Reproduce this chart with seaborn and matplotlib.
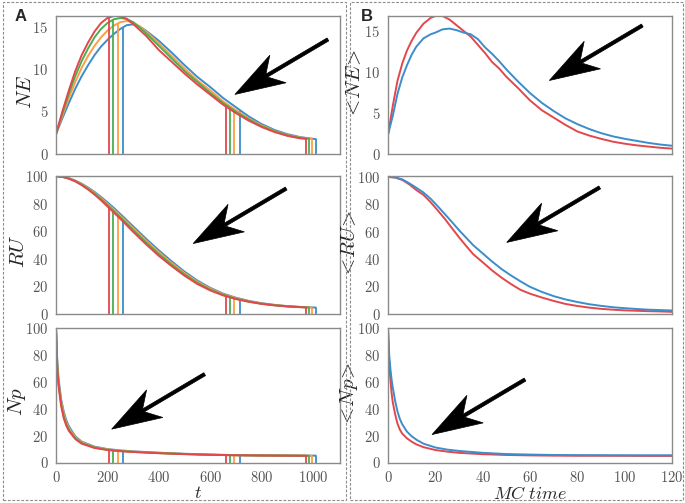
import numpy as np
import pandas as pd
import matplotlib
matplotlib.use("Agg")
import matplotlib.pyplot as plt
import seaborn as sns
from matplotlib.patches import Polygon, Rectangle
from matplotlib.transforms import IdentityTransform

# ---------------- data ----------------
# panel A: deterministic curves, four runs (blue, orange, green, red)
T_GRID = [0, 25, 50, 75, 100, 125, 150, 175, 200, 225, 250, 275, 300, 325, 350,
          400, 450, 500, 550, 600, 650, 700, 750, 800, 850, 900, 950]
T_END = {"blue": 1011, "orange": 995, "green": 985, "red": 974}
EVENTS = {"blue": [262, 717, 1011], "orange": [242, 694, 995],
          "green": [222, 677, 985], "red": [207, 661, 974]}

NE_BLUE = [2.3, 4.2, 6.0, 7.7, 9.2, 10.5, 11.7, 12.7, 13.5, 14.2, 14.8, 15.25, 15.35, 15.1, 14.6,
           13.4, 12.0, 10.5, 9.1, 7.9, 6.6, 5.5, 4.4, 3.5, 2.8, 2.3, 1.95, 1.7]
NE_ORANGE = [2.3, 4.5, 6.6, 8.5, 10.2, 11.6, 12.8, 13.8, 14.6, 15.2, 15.6, 15.75, 15.6, 15.1, 14.5,
             13.1, 11.6, 10.1, 8.7, 7.5, 6.2, 5.15, 4.15, 3.35, 2.7, 2.2, 1.9, 1.75]
NE_GREEN = [2.3, 4.8, 7.1, 9.2, 11.0, 12.5, 13.8, 14.8, 15.5, 15.95, 16.1, 16.0, 15.6, 15.0, 14.3,
            12.8, 11.3, 9.8, 8.5, 7.2, 6.0, 4.95, 4.05, 3.25, 2.65, 2.15, 1.85, 1.75]
NE_RED = [2.3, 5.0, 7.5, 9.8, 11.7, 13.2, 14.5, 15.5, 16.1, 16.35, 16.3, 16.0, 15.4, 14.7, 14.0,
          12.3, 10.9, 9.5, 8.2, 7.0, 5.8, 4.8, 3.9, 3.15, 2.55, 2.1, 1.8, 1.75]

RU_BLUE = [100, 99.6, 98.5, 96.8, 94.5, 91.7, 88.5, 84.9, 81.0, 76.9, 72.5, 68.0, 63.5, 59.0, 54.5,
           46.0, 38.0, 30.5, 24.0, 18.7, 14.5, 11.5, 9.2, 7.5, 6.3, 5.4, 4.8, 4.3]
RU_ORANGE = [100, 99.6, 98.4, 96.6, 94.2, 91.2, 87.9, 84.1, 80.0, 75.8, 71.3, 66.8, 62.2, 57.7, 53.2,
             44.7, 36.8, 29.5, 23.2, 18.1, 14.1, 11.2, 9.0, 7.3, 6.2, 5.3, 4.75, 4.35]
RU_GREEN = [100, 99.5, 98.3, 96.4, 93.8, 90.7, 87.2, 83.3, 79.0, 74.6, 70.1, 65.5, 60.8, 56.3, 51.8,
            43.3, 35.6, 28.5, 22.3, 17.4, 13.6, 10.8, 8.7, 7.1, 6.0, 5.2, 4.7, 4.4]
RU_RED = [100, 99.5, 98.2, 96.2, 93.5, 90.3, 86.6, 82.5, 78.0, 73.5, 69.0, 64.3, 59.5, 55.0, 50.5,
          42.0, 34.5, 27.5, 21.5, 16.8, 13.2, 10.5, 8.5, 7.0, 5.9, 5.1, 4.6, 4.4]

NP_GRID = [0, 5, 10, 20, 30, 40, 50, 75, 100, 150, 200, 250, 300, 400, 500, 600, 700, 800, 900]
NP_BLUE = [100, 75, 62, 47, 38, 31.5, 27, 19.5, 15.5, 11.8, 10.0, 9.0, 8.3, 7.3, 6.5, 5.9, 5.5, 5.3, 5.2, 5.1]
NP_ORANGE = [100, 73, 60, 45.5, 36.5, 30, 25.8, 18.8, 15.0, 11.4, 9.8, 8.8, 8.1, 7.2, 6.4, 5.85, 5.45, 5.25, 5.15, 5.05]
NP_GREEN = [100, 71.5, 58.5, 43.5, 34.5, 28.5, 24.5, 18.0, 14.5, 11.1, 9.5, 8.6, 7.9, 7.0, 6.3, 5.75, 5.4, 5.2, 5.1, 5.0]
NP_RED = [100, 70, 57, 42, 33, 27.5, 23.5, 17.5, 14.0, 10.8, 9.3, 8.4, 7.8, 6.9, 6.2, 5.7, 5.4, 5.2, 5.1, 5.0]

# panel B: Monte Carlo averages (blue, red)
MC_NE_T = [0, 2, 4, 6, 8, 10, 12, 15, 18, 20, 23, 26, 29, 32, 35, 38, 41, 44, 47, 50,
           55, 60, 65, 70, 75, 80, 85, 90, 95, 100, 105, 110, 115, 120]
MC_NE_RED = [2.3, 5.8, 8.9, 11.0, 12.6, 13.8, 14.8, 15.9, 16.6, 16.85, 16.85, 16.4, 15.7, 15.0, 14.3,
             13.3, 12.3, 11.2, 10.4, 9.4, 8.0, 6.5, 5.3, 4.4, 3.5, 2.7, 2.2, 1.8, 1.45, 1.2, 1.0, 0.85, 0.7, 0.6]
MC_NE_BLUE = [2.3, 4.6, 7.3, 9.3, 10.8, 12.1, 13.1, 14.1, 14.6, 14.8, 15.2, 15.3, 15.1, 14.8, 14.6,
              14.0, 13.0, 12.2, 11.3, 10.3, 8.8, 7.4, 6.2, 5.2, 4.3, 3.6, 3.0, 2.5, 2.1, 1.8, 1.55, 1.3, 1.1, 0.95]

MC_RU_T = [0, 3, 6, 9, 12, 15, 18, 21, 24, 27, 30, 33, 36, 40, 44, 48, 52, 56, 60,
           65, 70, 75, 80, 85, 90, 95, 100, 105, 110, 115, 120]
MC_RU_RED = [100, 99.5, 97.8, 94.5, 90.3, 86.8, 81.5, 75.5, 69.3, 62.5, 55.8, 49.5, 43.4, 37.5, 31.5,
             26.2, 21.5, 17.3, 14.5, 11.7, 9.2, 7.0, 5.5, 4.3, 3.4, 2.8, 2.3, 2.0, 1.7, 1.5, 1.2]
MC_RU_BLUE = [100, 99.6, 98.2, 95.3, 92.0, 88.5, 84.0, 78.5, 72.8, 67.0, 61.0, 55.5, 50.0, 44.0, 38.0,
              32.5, 27.8, 23.5, 19.5, 15.8, 12.7, 10.3, 8.4, 6.8, 5.6, 4.6, 3.9, 3.3, 2.8, 2.5, 2.2]

MC_NP_T = [0, 0.5, 1, 1.5, 2, 3, 4, 5, 6, 8, 10, 12, 15, 20, 25, 30, 40, 50, 60, 70, 80, 90, 100, 110, 120]
MC_NP_RED = [100, 74, 62, 52, 45, 36, 29, 24.5, 21.5, 18, 15.5, 13.5, 11.4, 9.3, 8.1, 7.2, 6.2, 5.6,
             5.3, 5.1, 5.0, 5.0, 4.95, 4.9, 4.9]
MC_NP_BLUE = [100, 80, 70, 62, 56, 46, 38, 32.5, 28.5, 23, 19.5, 17, 14, 11.2, 9.6, 8.6, 7.2, 6.3,
              5.9, 5.6, 5.5, 5.45, 5.4, 5.4, 5.4]

COLORS = {"blue": "#3c8dcc", "orange": "#ff9d45", "green": "#4bae4f", "red": "#e3474b"}

# ---------------- style ----------------
sns.set_style("white")
plt.rcParams["mathtext.fontset"] = "cm"
plt.rcParams["font.family"] = ["DejaVu Sans"]

fig = plt.figure(figsize=(6.85, 5.03), dpi=100)
W, H = 685.0, 503.0


def make_ax(left_px, top_px, bottom_px, width_px=284):
    return fig.add_axes([left_px / W, 1 - bottom_px / H, width_px / W, (bottom_px - top_px) / H])


rows = [(15.5, 153.5), (175.5, 313.5), (327.5, 462.5)]
axA = [make_ax(56, t, b) for t, b in rows]
axB = [make_ax(388, t, b) for t, b in rows]


def style_ax(ax, xticks, yticks, xlim, ylim, show_xlabels):
    ax.set_xlim(*xlim)
    ax.set_ylim(*ylim)
    ax.set_xticks(xticks)
    ax.set_yticks(yticks, labels=[f"${v}$" for v in yticks])
    if show_xlabels:
        ax.set_xticklabels([f"${v}$" for v in xticks])
    else:
        ax.set_xticklabels([])
    for s in ax.spines.values():
        s.set_color("#8a8a8a")
        s.set_linewidth(1.0)
    ax.tick_params(direction="out", length=3.5, width=0.9, color="#8a8a8a",
                   labelcolor="#555555", labelsize=10.5, pad=2)
    ax.grid(False)


def draw_arrow(ax, tip):
    # big black arrow pointing to lower left, shape in pixels
    tx, ty = ax.transAxes.transform(tip)
    u = np.array([93.0, 55.0])
    length = np.hypot(*u)
    u /= length
    n = np.array([-u[1], u[0]])
    T = np.array([tx, ty])
    L, Wd, sw = 50.0, 16.0, 1.7
    tail = T + u * length
    pts = [T,
           T + u * L + n * Wd,
           T + u * L * 0.74 + n * sw,
           tail + n * sw,
           tail - n * sw,
           T + u * L * 0.74 - n * sw,
           T + u * L - n * Wd]
    ax.add_patch(Polygon(pts, closed=True, facecolor="black", edgecolor="black",
                         lw=0.5, transform=IdentityTransform(), clip_on=False, zorder=5))


# ---------------- panel A ----------------
a_series = [
    (axA[0], T_GRID, {"blue": NE_BLUE, "orange": NE_ORANGE, "green": NE_GREEN, "red": NE_RED}),
    (axA[1], T_GRID, {"blue": RU_BLUE, "orange": RU_ORANGE, "green": RU_GREEN, "red": RU_RED}),
    (axA[2], NP_GRID, {"blue": NP_BLUE, "orange": NP_ORANGE, "green": NP_GREEN, "red": NP_RED}),
]
for ax, grid, curves in a_series:
    for name in ["blue", "orange", "green", "red"]:
        t = list(grid) + [T_END[name]]
        v = curves[name]
        df = pd.DataFrame({"t": t, "v": v})
        sns.lineplot(data=df, x="t", y="v", ax=ax, color=COLORS[name], lw=1.4)
        ev = np.array(EVENTS[name])
        ax.vlines(ev, 0, np.interp(ev, t, v), color=COLORS[name], lw=1.3)

a_ticks = [0, 200, 400, 600, 800, 1000]
style_ax(axA[0], a_ticks, [0, 5, 10, 15], (0, 1105), (0, 16.4), False)
style_ax(axA[1], a_ticks, [0, 20, 40, 60, 80, 100], (0, 1105), (0, 100.5), False)
style_ax(axA[2], a_ticks, [0, 20, 40, 60, 80, 100], (0, 1105), (0, 100.5), True)

# ---------------- panel B ----------------
b_series = [
    (axB[0], MC_NE_T, MC_NE_BLUE, MC_NE_RED),
    (axB[1], MC_RU_T, MC_RU_BLUE, MC_RU_RED),
    (axB[2], MC_NP_T, MC_NP_BLUE, MC_NP_RED),
]
for ax, t, blue, red in b_series:
    sns.lineplot(x=t, y=red, ax=ax, color=COLORS["red"], lw=1.4)
    sns.lineplot(x=t, y=blue, ax=ax, color=COLORS["blue"], lw=1.4)

b_ticks = [0, 20, 40, 60, 80, 100, 120]
style_ax(axB[0], b_ticks, [0, 5, 10, 15], (0, 120), (0, 16.9), False)
style_ax(axB[1], b_ticks, [0, 20, 40, 60, 80, 100], (0, 120), (0, 101), False)
style_ax(axB[2], b_ticks, [0, 20, 40, 60, 80, 100], (0, 120), (0, 100.5), True)

# labels
lab_kw = dict(fontsize=15)
for ax, lab, xc in zip(axA, [r"$NE$", r"$RU$", r"$Np$"], [-0.075, -0.098, -0.098]):
    ax.set_ylabel(lab, **lab_kw)
    ax.yaxis.set_label_coords(xc, 0.45)
for ax, lab, xc in zip(axB, [r"$<\!NE\!>$", r"$<\!RU\!>$", r"$<\!Np\!>$"], [-0.085, -0.1, -0.1]):
    ax.set_ylabel(lab, **lab_kw)
    ax.yaxis.set_label_coords(xc, 0.5)
for ax in axA[:2] + axB[:2]:
    ax.set_xlabel("")
axA[2].set_xlabel(r"$t$", fontsize=13, labelpad=-0.5)
axB[2].set_xlabel(r"$MC\ time$", fontsize=13, labelpad=0)

# arrows
arrow_tips = [(0.630, 0.428), (0.483, 0.507), (0.196, 0.247),
              (0.568, 0.529), (0.418, 0.515), (0.155, 0.207)]
for ax, tip in zip(axA + axB, arrow_tips):
    draw_arrow(ax, tip)

# dashed panel boxes and panel letters
for x0, x1 in [(3, 346), (350, 683)]:
    fig.patches.append(Rectangle((x0 / W, 1 - 500 / H), (x1 - x0) / W, 498 / H,
                                 transform=fig.transFigure, fill=False,
                                 edgecolor="#8c8c8c", lw=0.8, linestyle=(0, (2.5, 1.5))))
fig.text(15 / W, 1 - 21 / H, "A", fontsize=12, fontweight="bold", family="Liberation Sans")
fig.text(361 / W, 1 - 21 / H, "B", fontsize=12, fontweight="bold", family="Liberation Sans")

fig.savefig("out.png", dpi=100)
